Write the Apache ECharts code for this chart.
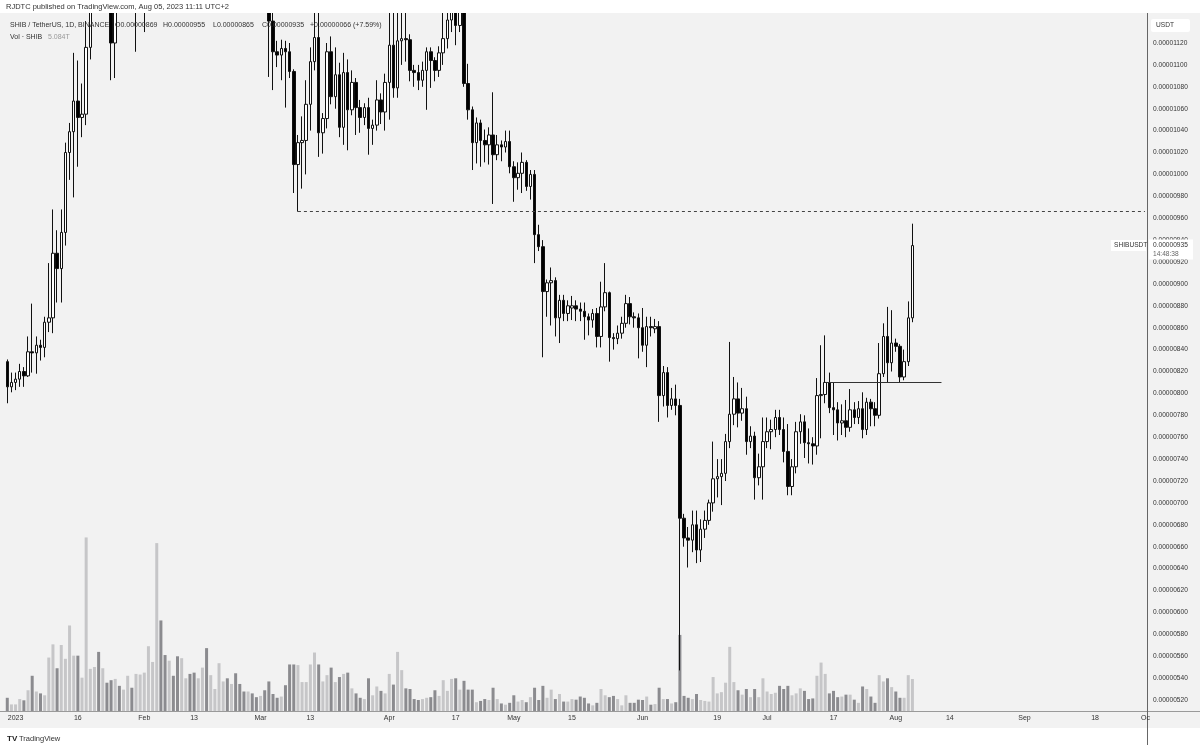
<!DOCTYPE html>
<html><head><meta charset="utf-8">
<script src="https://cdn.jsdelivr.net/npm/echarts@6/dist/echarts.min.js"></script>
<style>html,body{margin:0;padding:0;background:#fff;}#c{width:1200px;height:750px;}</style>
</head><body><div id="c"></div>
<script>
// Prices are stored in units of 1e-8 USDT (e.g. 869 = 0.00000869)
const PRICE_UNIT = 1e-8;
const START_DATE = Date.UTC(2022, 11, 30);
const CATEGORY_COUNT = 275;

const opens = [
829,806,810,813,820,816,838,837,844,842,
865,869,928,914,947,1020,1039,1067,1052,1055,
1116,1180,1200,1175,1215,1190,1120,1185,1170,1200,
1230,1195,1215,1240,1270,1300,1330,1420,1370,1330,
1345,1300,1250,1265,1275,1240,1215,1260,1330,1300,
1340,1360,1380,1390,1350,1360,1320,1290,1260,1275,
1240,1220,1230,1185,1140,1112,1109,1115,1112,1094,
1009,1029,1031,1064,1103,1125,1038,1051,1112,1071,
1091,1043,1093,1059,1084,1061,1052,1061,1042,1045,
1068,1057,1084,1118,1079,1122,1124,1123,1095,1093,
1086,1095,1112,1104,1095,1111,1124,1141,1150,1136,
1150,1083,1059,1029,1047,1031,1027,1036,1018,1027,
1025,1030,1007,997,1001,1011,989,1000,945,934,
893,901,903,869,885,873,878,880,877,875,
870,867,873,852,879,892,851,850,855,864,
882,870,869,860,844,861,859,861,798,819,
789,795,789,686,668,666,680,657,676,684,
700,722,724,727,756,781,795,782,786,756,
761,723,733,756,765,767,778,767,747,715,
733,765,774,755,754,752,798,799,810,787,
785,773,775,769,785,778,786,767,792,786,
780,818,852,828,846,843,815,829,869];
const closes = [
806,810,813,820,816,838,837,844,842,865,
869,928,914,947,1020,1039,1067,1052,1055,1116,
1180,1200,1175,1215,1190,1120,1185,1170,1200,1230,
1195,1215,1240,1270,1300,1330,1420,1370,1330,1345,
1300,1250,1265,1275,1240,1215,1260,1330,1300,1340,
1360,1380,1390,1350,1360,1320,1290,1260,1275,1240,
1220,1230,1185,1140,1112,1109,1115,1112,1094,1009,
1029,1031,1064,1103,1125,1038,1051,1112,1071,1091,
1043,1093,1059,1084,1061,1052,1061,1042,1045,1068,
1057,1084,1118,1079,1122,1124,1123,1095,1093,1086,
1095,1112,1104,1095,1111,1124,1141,1150,1136,1150,
1083,1059,1029,1047,1031,1027,1036,1018,1027,1025,
1030,1007,997,1001,1011,989,1000,945,934,893,
901,903,869,885,873,880,880,877,875,870,
867,873,852,879,892,851,850,855,864,882,
870,869,860,844,861,860,861,798,819,789,
795,789,686,668,666,680,657,676,684,700,
722,724,727,756,781,795,782,786,756,761,
723,733,756,765,767,778,767,747,715,733,
765,774,755,754,752,798,799,810,787,785,
773,775,769,785,778,786,767,792,786,780,
818,852,828,846,843,815,829,869,935];
const highs = [
831,819,819,827,824,852,882,852,849,870,
919,968,949,968,1029,1047,1111,1104,1083,1140,
1210,1220,1215,1235,1230,1195,1200,1200,1215,1250,
1240,1230,1255,1290,1320,1350,1530,1440,1390,1360,
1355,1310,1280,1290,1285,1250,1270,1350,1345,1360,
1380,1400,1410,1400,1375,1370,1330,1300,1285,1280,
1250,1245,1235,1190,1150,1122,1123,1122,1120,1096,
1036,1053,1086,1116,1155,1155,1056,1120,1126,1116,
1102,1111,1105,1095,1088,1068,1065,1070,1050,1086,
1074,1092,1160,1160,1160,1160,1160,1128,1100,1100,
1103,1116,1116,1107,1117,1160,1165,1175,1165,1170,
1160,1101,1062,1052,1050,1041,1043,1075,1036,1031,
1040,1040,1012,1011,1020,1013,1004,1004,954,940,
904,915,906,890,890,885,889,885,883,883,
873,877,878,902,919,893,855,862,870,890,
888,874,873,878,870,870,868,866,825,824,
805,808,795,690,678,693,693,685,693,703,
756,740,740,763,847,815,810,805,797,770,
765,745,778,778,776,785,785,778,772,740,
774,781,780,768,760,814,844,853,819,810,
792,790,794,804,792,793,801,796,795,792,
846,864,879,876,850,845,840,884,955];
const lows = [
791,801,803,806,806,815,819,818,830,833,
856,855,883,883,935,995,979,1007,1034,1045,
1105,1165,1160,1170,1175,1086,1088,1155,1160,1190,
1180,1112,1200,1130,1255,1290,1320,1340,1310,1315,
1280,1230,1235,1250,1220,1195,1205,1250,1285,1290,
1325,1345,1360,1330,1335,1300,1275,1245,1250,1225,
1205,1210,1170,1089,1077,1098,1086,1061,1088,983,
966,987,1000,1040,1095,1016,1019,1042,1064,1060,
1034,1027,1022,1054,1036,1038,1045,1018,1027,1040,
1046,1040,1050,1070,1070,1100,1103,1085,1080,1077,
1080,1059,1079,1085,1089,1100,1115,1130,1118,1130,
1080,1050,1004,1010,1007,1011,1009,973,1013,1012,
1020,1001,975,986,983,985,977,919,930,833,
870,862,852,846,866,866,867,866,866,849,
853,860,842,842,875,829,840,845,850,860,
863,860,832,838,824,852,855,774,788,778,
785,780,547,660,641,655,645,646,668,680,
692,705,698,720,750,771,769,775,744,750,
703,716,703,750,749,760,762,737,707,707,
727,754,741,736,735,744,759,791,782,762,
757,762,760,765,772,772,759,762,770,770,
777,815,810,820,838,810,812,825,865];
// Volume in trillions of SHIB
const volumesT = [
2.1,1.05,1.05,1.9,1.7,3.3,5.6,3.1,2.8,2.5,
8.5,10.6,6.8,10.5,8.3,13.6,8.8,8.8,5.3,27.6,
6.7,7.0,9.4,6.8,4.5,4.9,5.1,4.0,3.4,5.6,
3.7,5.9,5.8,6.1,10.3,7.8,26.7,14.4,8.9,8.0,
5.6,8.7,8.4,5.2,5.9,6.1,5.2,6.9,10.0,5.7,
3.5,7.6,4.7,5.2,4.3,6.0,4.3,3.1,3.1,2.8,
2.2,2.4,3.3,4.7,2.7,2.1,2.3,4.1,7.4,7.4,
7.3,4.6,4.6,7.4,9.3,7.4,4.7,5.7,6.9,4.6,
5.4,5.9,6.1,3.6,2.8,2.1,1.9,5.2,2.5,3.9,
3.2,2.8,5.9,4.2,9.4,6.5,3.6,3.5,1.9,1.75,
1.9,2.1,2.2,3.3,2.4,4.9,3.2,5.1,5.2,3.4,
4.8,3.4,3.4,1.4,1.6,1.9,1.75,3.7,1.9,1.2,
1.0,1.3,2.5,1.5,1.75,1.4,2.2,3.7,1.75,4.0,
2.1,3.4,1.9,2.7,1.5,1.5,1.9,1.8,2.3,2.1,
1.2,0.9,1.3,3.5,2.5,2.2,2.4,1.9,0.9,2.5,
1.3,1.3,1.8,1.75,2.3,1.0,1.1,3.7,1.9,1.9,
1.2,1.4,12.1,2.4,2.1,1.9,2.7,1.75,1.6,1.5,
5.4,2.8,3.0,4.5,10.2,4.6,3.3,2.6,3.5,2.2,
3.5,2.2,5.2,3.1,2.7,2.9,4.0,3.5,4.0,2.5,
2.8,3.6,3.2,1.9,2.0,5.6,7.7,5.9,2.8,3.2,
2.2,2.3,2.6,2.6,1.8,1.3,3.9,3.5,2.3,1.3,
5.7,4.7,5.2,3.8,3.1,2.1,2.1,5.7,5.084];

const xTickDates = ['2023-01-01','2023-01-16','2023-02-01','2023-02-13','2023-03-01','2023-03-13','2023-04-01','2023-04-17','2023-05-01','2023-05-15','2023-06-01','2023-06-19','2023-07-01','2023-07-17','2023-08-01','2023-08-14','2023-09-01','2023-09-18'];
const xTickTexts = ['2023','16','Feb','13','Mar','13','Apr','17','May','15','Jun','19','Jul','17','Aug','14','Sep','18'];

const dashedLevel = {from:'2023-03-10', to:'2023-09-30', price:966};
const solidLevel = {from:'2023-07-15', to:'2023-08-12', price:810};

const categories = [];
for (let i = 0; i < CATEGORY_COUNT; i++) {
  categories.push(new Date(START_DATE + i * 86400000).toISOString().slice(0, 10));
}
const tickMap = {};
xTickDates.forEach((d, i) => tickMap[d] = xTickTexts[i]);

const candleData = opens.map((o, i) => [o, closes[i], lows[i], highs[i]]);
const UP_VOL = '#c6c6c8', DOWN_VOL = '#8b8b8f';
const volData = volumesT.map((v, i) => ({value: v, itemStyle: {color: closes[i] >= opens[i] ? UP_VOL : DOWN_VOL}}));

const FONT = 'Liberation Sans, Arial, sans-serif';
const fmtP = v => (v * PRICE_UNIT).toFixed(8);

const GRID_LEFT = 5.2, GRID_RIGHT = 53;
const option = {
  animation: false,
  backgroundColor: '#f2f2f2',
  textStyle: {fontFamily: FONT},
  grid: [
    {left: GRID_LEFT, right: GRID_RIGHT, top: 13, bottom: 28.1},
    {left: GRID_LEFT, right: GRID_RIGHT, top: 13, bottom: 39}
  ],
  xAxis: [
    {type:'category', gridIndex:0, data:categories, boundaryGap:true, show:false},
    {type:'category', gridIndex:1, data:categories, boundaryGap:true,
     axisLine:{show:false}, axisTick:{show:false}, splitLine:{show:false},
     axisLabel:{interval:(idx, val) => tickMap[val] !== undefined, formatter: v => tickMap[v] || '',
       fontSize:7, color:'#333', margin:4, fontFamily:FONT}}
  ],
  yAxis: [
    {type:'value', gridIndex:0, position:'right', min:500, max:1147.4, interval:20,
     splitLine:{show:false}, axisTick:{show:false}, axisLine:{show:false},
     axisLabel:{showMinLabel:false, showMaxLabel:false, fontSize:6.6, color:'#333', margin:6, fontFamily:FONT,
       formatter: v => (v >= 520 && v <= 1120) ? fmtP(v) : ''}},
    {type:'value', gridIndex:1, min:0, max:111, show:false}
  ],
  series: [
    {type:'bar', xAxisIndex:1, yAxisIndex:1, data:volData, barWidth:3, z:1, silent:true},
    {type:'candlestick', xAxisIndex:0, yAxisIndex:0, data:candleData, barWidth:3, z:3, silent:true,
     itemStyle:{color:'#ffffff', color0:'#000000', borderColor:'#111', borderColor0:'#111', borderWidth:1},
     markLine:{symbol:'none', silent:true, label:{show:false},
       data:[
         [{coord:[dashedLevel.from, dashedLevel.price], lineStyle:{type:[3,3], color:'#444', width:1}},
          {coord:[dashedLevel.to, dashedLevel.price]}],
         [{coord:[solidLevel.from, solidLevel.price], lineStyle:{type:'solid', color:'#333', width:1}},
          {coord:[solidLevel.to, solidLevel.price]}]
       ]}}
  ]
};

const chart = echarts.init(document.getElementById('c'), null, {renderer:'canvas', width:1200, height:750});
chart.setOption(option);

const n = closes.length - 1;
const lastO = opens[n], lastH = highs[n], lastL = lows[n], lastC = closes[n], prevC = closes[n-1];
const chg = lastC - prevC;
const pct = (chg / prevC * 100).toFixed(2);
const yLast = chart.convertToPixel({yAxisIndex:0}, lastC);

const T = (x, y, text, opts) => Object.assign({type:'text', z:100, silent:true, x, y,
  style:Object.assign({text, fill:'#333', font:'7px ' + FONT, verticalAlign:'middle'}, opts || {})});
const R = (x, y, w, h, fill, extra) => Object.assign({type:'rect', z:90, silent:true,
  shape:{x, y, width:w, height:h, r:(extra && extra.r) || 0}, style:{fill}});

const graphics = [
  R(0, 0, 1200, 13, '#ffffff'),
  R(0, 728, 1200, 22, '#ffffff'),
  {type:'line', z:95, silent:true, shape:{x1:0, y1:711.5, x2:1200, y2:711.5}, style:{stroke:'#9a9a9a', lineWidth:1}},
  {type:'line', z:95, silent:true, shape:{x1:1147.5, y1:13, x2:1147.5, y2:745}, style:{stroke:'#666', lineWidth:1}},
  T(6, 6.5, 'RJDTC published on TradingView.com, Aug 05, 2023 11:11 UTC+2', {font:'7.5px ' + FONT}),
  T(10, 25.5, 'SHIB / TetherUS, 1D, BINANCE'),
  T(115, 25.5, 'O' + fmtP(lastO)),
  T(163, 25.5, 'H' + fmtP(lastH)),
  T(213, 25.5, 'L' + fmtP(lastL)),
  T(262, 25.5, 'C' + fmtP(lastC)),
  T(310, 25.5, (chg >= 0 ? '+' : '') + fmtP(chg) + ' (' + (chg >= 0 ? '+' : '') + pct + '%)'),
  T(10, 37, 'Vol \u00b7 SHIB'),
  T(48, 37, volumesT[n].toFixed(3) + 'T', {fill:'#999'}),
  R(1151, 19, 39, 13, '#ffffff', {r:2}),
  T(1156, 25.5, 'USDT', {font:'6.6px ' + FONT}),
  R(1111, yLast - 5.5, 35, 11, '#ffffff'),
  T(1114, yLast, 'SHIBUSDT', {font:'6.6px ' + FONT}),
  R(1149, yLast - 6, 44, 20, '#ffffff'),
  T(1153, yLast, fmtP(lastC), {font:'6.6px ' + FONT}),
  T(1153, yLast + 9, '14:48:38', {font:'6.6px ' + FONT, fill:'#666'}),
  T(1141, 718.5, 'Oc', {font:'7px ' + FONT}),
  T(7, 739, 'TV', {font:'bold 8px ' + FONT, fill:'#222'}),
  T(19, 739, 'TradingView', {font:'7.5px ' + FONT, fill:'#333'})
];
chart.setOption({graphic: graphics});
</script>
</body></html>
